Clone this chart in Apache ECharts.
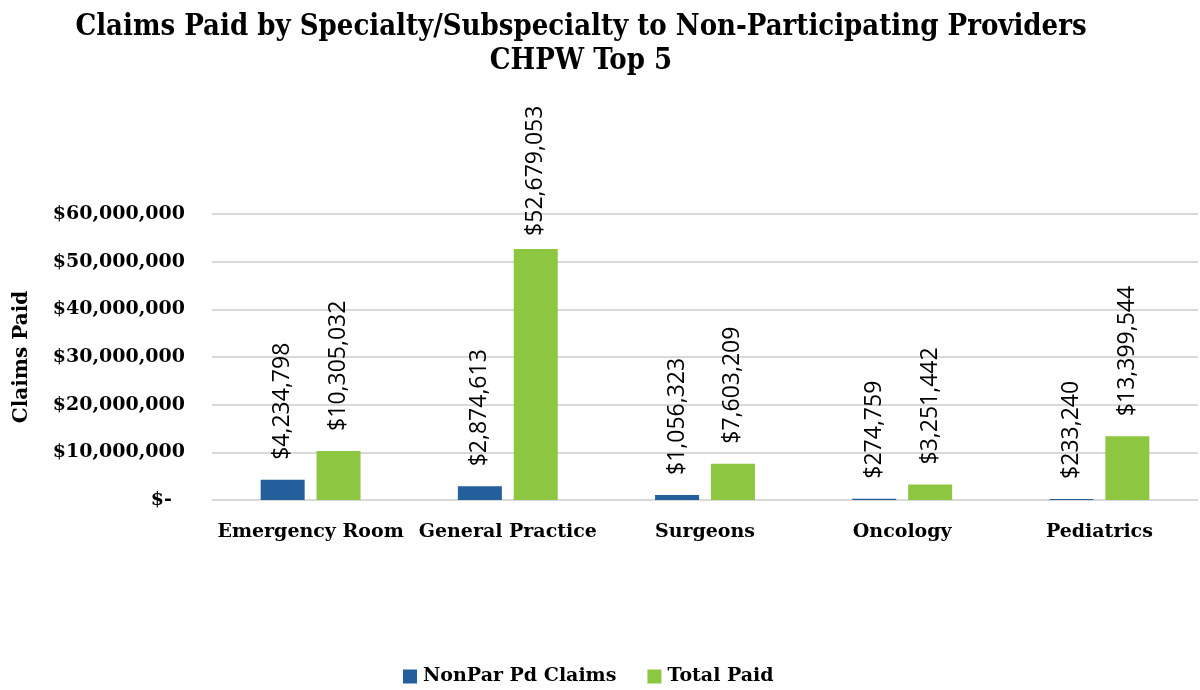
<!DOCTYPE html>
<html>
<head>
<meta charset="utf-8">
<script src="https://cdn.jsdelivr.net/npm/echarts@6/dist/echarts.min.js"></script>
<style>html,body{margin:0;padding:0;background:#fff}#c{width:1200px;height:690px}</style>
</head>
<body>
<div id="c"></div>
<script>
const categories = ['Emergency Room', 'General Practice', 'Surgeons', 'Oncology', 'Pediatrics'];
const nonParPaid = [4234798, 2874613, 1056323, 274759, 233240];
const totalPaid = [10305032, 52679053, 7603209, 3251442, 13399544];
const seriesNames = ['NonPar Pd Claims', 'Total Paid'];
const yTicks = { min: 0, max: 60000000, interval: 10000000 };

const serifBold = "'DejaVu Serif', serif";
const fmt = v => '$' + Math.round(v).toLocaleString('en-US');

const chart = echarts.init(document.getElementById('c'));
const labelCfg = {
  show: true, position: 'top', rotate: 90, align: 'left', verticalAlign: 'middle',
  distance: 20, formatter: p => fmt(p.value),
  fontFamily: "'Open Sans', sans-serif", fontSize: 23, color: '#000'
};
// The tallest label is pushed down to stay inside the chart area, as in the reference.
const maxTotal = Math.max(...totalPaid);
const totalData = totalPaid.map(v => v === maxTotal ? { value: v, label: { distance: 13 } } : v);

chart.setOption({
  animation: false,
  title: {
    text: 'Claims Paid by Specialty/Subspecialty to Non-Participating Providers\nCHPW Top 5',
    left: 576, top: 5, textAlign: 'center',
    textStyle: { fontFamily: "'DejaVu Serif Condensed', 'DejaVu Serif', serif", fontWeight: 'bold', fontSize: 29, lineHeight: 34, color: '#000' }
  },
  legend: {
    top: 662, left: 398, itemWidth: 14, itemHeight: 14, itemGap: 31,
    icon: 'rect',
    textStyle: { fontFamily: serifBold, fontWeight: 'bold', fontSize: 19, color: '#000', padding: [0, 0, 0, 1] }
  },
  grid: { left: 212, right: 2, top: 214, bottom: 190, containLabel: false },
  xAxis: {
    type: 'category', data: categories,
    axisLine: { show: false }, axisTick: { show: false },
    axisLabel: { fontFamily: serifBold, fontWeight: 'bold', fontSize: 19, color: '#000', margin: 23, interval: 0 }
  },
  yAxis: {
    type: 'value', min: yTicks.min, max: yTicks.max, interval: yTicks.interval,
    name: 'Claims Paid', nameLocation: 'middle', nameGap: 180, nameRotate: 90,
    nameTextStyle: { fontFamily: serifBold, fontWeight: 'bold', fontSize: 20, color: '#000' },
    axisLine: { show: false }, axisTick: { show: false },
    splitLine: { lineStyle: { color: '#d9d9d9', width: 2 } },
    axisLabel: {
      fontFamily: serifBold, fontWeight: 'bold', fontSize: 19, color: '#000', margin: 27,
      formatter: v => v === 0 ? '$-  ' : fmt(v)
    }
  },
  series: [
    { name: seriesNames[0], type: 'bar', data: nonParPaid, barWidth: 44, barGap: '27%',
      itemStyle: { color: '#23609B' }, label: labelCfg },
    { name: seriesNames[1], type: 'bar', data: totalData, barWidth: 44,
      itemStyle: { color: '#8DC641' }, label: labelCfg }
  ]
});
</script>
</body>
</html>
